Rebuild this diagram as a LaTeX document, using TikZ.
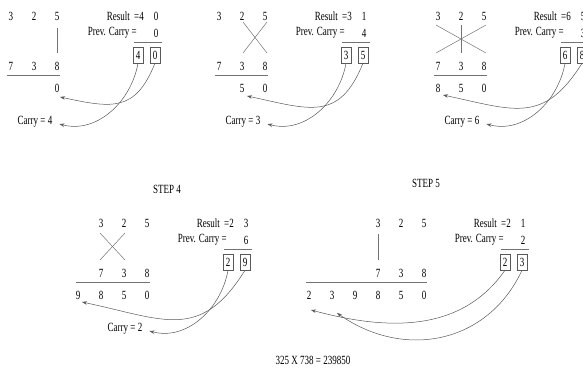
\documentclass[tikz,border=0pt]{standalone}
\usepackage{fontspec}
\setmainfont{Liberation Serif}[FakeStretch=0.72]
\usetikzlibrary{arrows.meta}

\begin{document}
\begin{tikzpicture}[x=1pt, y=-1pt, font=\fontsize{12.5}{15}\selectfont,
  digit/.style={inner sep=0pt},
  cell/.style={draw=black!65, line width=0.5pt, inner sep=0pt, minimum width=10pt, minimum height=16pt},
  rule/.style={draw=black!55, line width=0.5pt},
  link/.style={->, >={Stealth[length=5pt, width=3.5pt]}, draw=black!65, line width=0.5pt}]
\useasboundingbox (0,0) rectangle (583,370);
% common frame of every step
\foreach \s/\dx/\dy/\lx/\ra/\rb/\pc/\ba/\bb in {a/0/0/7/4/0/0/4/0, b/208/0/7/3/1/4/3/5, c/427/0/7/6/5/3/6/8, d/90/207/-14/2/3/6/2/9, e/367/207/-61/2/1/2/2/3}{
  \begin{scope}[shift={(\dx,\dy)}]
    \node[digit] (\s-t1) at (11,16) {3};
    \node[digit] (\s-t2) at (34,16) {2};
    \node[digit] (\s-t3) at (57,16) {5};
    \node[digit] (\s-m1) at (11,66) {7};
    \node[digit] (\s-m2) at (34,66) {3};
    \node[digit] (\s-m3) at (57,66) {8};
    \draw[rule] (\lx,75) -- (60,75);
    \node[digit, anchor=east] (\s-res) at (144,16) {Result \,=\ra};
    \node[digit] (\s-rb) at (156,16) {\rb};
    \node[digit, anchor=east] (\s-prev) at (137,33) {Prev. Carry =};
    \node[digit] (\s-pc) at (156,33) {\pc};
    \draw[rule] (134,42) -- (162,42);
    \node[cell] (\s-ba) at (138,55) {\ba};
    \node[cell] (\s-bb) at (155,55) {\bb};
  \end{scope}
}
% step 1
\node[digit] (a-r1) at (57,88) {0};
\node[digit] (a-carry) at (35,122) {Carry = 4};
\draw[rule] ([shift={(0,12)}]a-t3.center) -- ([shift={(0,-13)}]a-m3.center);
\draw[link] (a-bb.south) to[out=-112, in=-12, looseness=1.35] ([shift={(3,9)}]a-r1.center);
\draw[link] (a-ba.south) to[out=-100, in=-15] ([shift={(7,2)}]a-carry.east);
% step 2
\begin{scope}[shift={(208,0)}]
  \node[digit] (b-r2) at (34,88) {5};
  \node[digit] (b-r1) at (57,88) {0};
  \node[digit] (b-carry) at (35,122) {Carry = 3};
\end{scope}
\draw[rule] ([shift={(1,6)}]b-t2.center) -- ([shift={(2,-13)}]b-m3.center);
\draw[rule] ([shift={(2,6)}]b-t3.center) -- ([shift={(1,-13)}]b-m2.center);
\draw[link] (b-bb.south) to[out=-112, in=-12, looseness=1.35] ([shift={(5,8)}]b-r2.center);
\draw[link] (b-ba.south) to[out=-100, in=-15] ([shift={(7,2)}]b-carry.east);
% step 3
\begin{scope}[shift={(427,0)}]
  \node[digit] (c-r3) at (11,88) {8};
  \node[digit] (c-r2) at (34,88) {5};
  \node[digit] (c-r1) at (57,88) {0};
  \node[digit] (c-carry) at (35,122) {Carry = 6};
\end{scope}
\draw[rule] ([shift={(-2,9)}]c-t1.center) -- ([shift={(2,-13)}]c-m3.center);
\draw[rule] ([shift={(2,9)}]c-t3.center) -- ([shift={(-2,-13)}]c-m1.center);
\draw[rule] ([shift={(0,9)}]c-t2.center) -- ([shift={(0,-13)}]c-m2.center);
\draw[link] (c-bb.south) to[out=-122, in=-12, looseness=1.3] ([shift={(5,7)}]c-r3.center);
\draw[link] (c-ba.south) to[out=-100, in=-15] ([shift={(7,2)}]c-carry.east);
% step 4
\node[digit] (step4) at (167,189) {STEP 4};
\begin{scope}[shift={(90,207)}]
  \node[digit] (d-r4) at (-12,88) {9};
  \node[digit] (d-r3) at (11,88) {8};
  \node[digit] (d-r2) at (34,88) {5};
  \node[digit] (d-r1) at (57,88) {0};
  \node[digit] (d-carry) at (35,122) {Carry = 2};
\end{scope}
\draw[rule] ([shift={(-1,10)}]d-t1.center) -- ([shift={(1,-13)}]d-m2.center);
\draw[rule] ([shift={(1,10)}]d-t2.center) -- ([shift={(-1,-13)}]d-m1.center);
\draw[link] (d-bb.south) to[out=-122, in=-12, looseness=1.3] ([shift={(4,7)}]d-r4.center);
\draw[link] (d-ba.south) to[out=-100, in=-15] ([shift={(7,2)}]d-carry.east);
% step 5
\node[digit] (step5) at (426,183) {STEP 5};
\begin{scope}[shift={(367,207)}]
  \node[digit] (e-r6) at (-58,88) {2};
  \node[digit] (e-r5) at (-35,88) {3};
  \node[digit] (e-r4) at (-12,88) {9};
  \node[digit] (e-r3) at (11,88) {8};
  \node[digit] (e-r2) at (34,88) {5};
  \node[digit] (e-r1) at (57,88) {0};
\end{scope}
\draw[rule] ([shift={(0,11)}]e-t1.center) -- ([shift={(0,-13)}]e-m1.center);
\draw[link] (e-ba.south) to[out=-125, in=-15] ([shift={(2,15)}]e-r6.center);
\draw[link] (e-bb.south) to[out=-115, in=-35, looseness=1.1] ([shift={(5,18)}]e-r5.center);
\node[digit] (product) at (313,360) {325 X 738 = 239850};
\end{tikzpicture}
\end{document}
